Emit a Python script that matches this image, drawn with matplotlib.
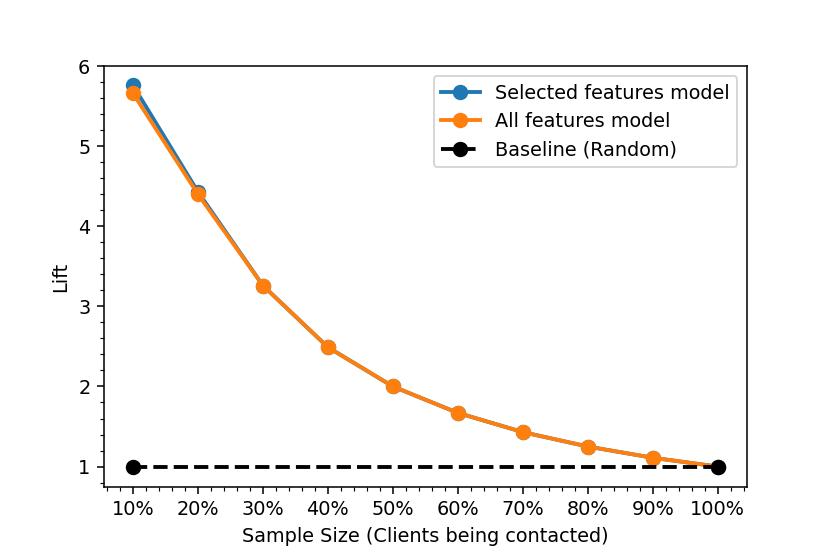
import numpy as np
import matplotlib.pyplot as plt
from matplotlib.ticker import PercentFormatter, AutoMinorLocator

sample_size = [10, 20, 30, 40, 50, 60, 70, 80, 90, 100]  # % of clients contacted
lift_selected = [5.76, 4.43, 3.26, 2.49, 2.00, 1.67, 1.43, 1.25, 1.11, 1.00]
lift_all = [5.66, 4.40, 3.26, 2.49, 2.00, 1.67, 1.43, 1.25, 1.11, 1.00]
baseline_x = [10, 100]
baseline_y = [1, 1]

fig, ax = plt.subplots(figsize=(6, 4), dpi=830 / 6)
fig.subplots_adjust(bottom=0.12)

ax.plot(sample_size, lift_selected, marker='o', markersize=7, linewidth=2, label='Selected features model')
ax.plot(sample_size, lift_all, marker='o', markersize=7, linewidth=2, label='All features model')
ax.plot(baseline_x, baseline_y, 'k--', marker='o', markersize=7, linewidth=2, label='Baseline (Random)')

ax.xaxis.set_major_formatter(PercentFormatter(decimals=0))
ax.set_xticks(sample_size)
ax.xaxis.set_minor_locator(AutoMinorLocator())
ax.yaxis.set_minor_locator(AutoMinorLocator())
ax.set_ylim(0.75, 6.0)

ax.set_xlabel('Sample Size (Clients being contacted)')
ax.set_ylabel('Lift')
ax.legend(loc='upper right')

fig.savefig('out.png')
